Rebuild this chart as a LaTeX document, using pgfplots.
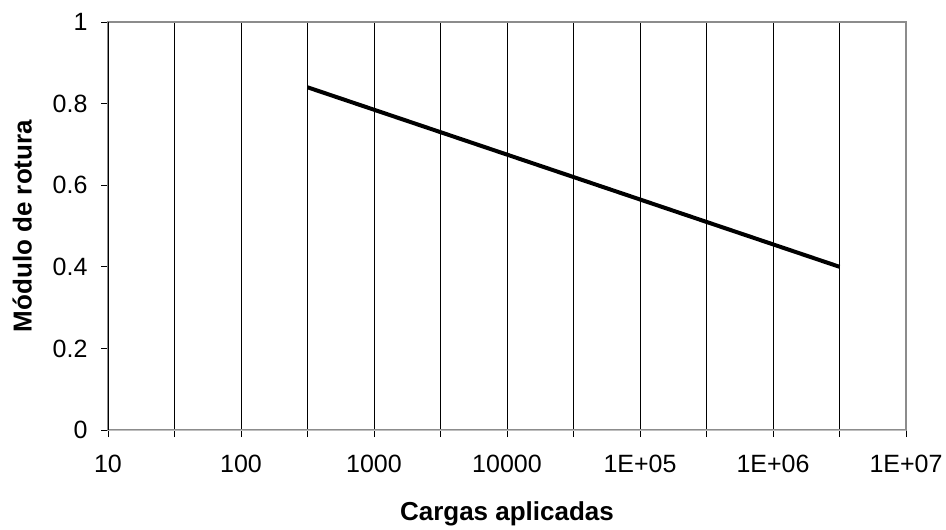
\documentclass[border=0pt]{standalone}
\usepackage{pgfplots}
\pgfplotsset{compat=1.18}
\usepackage{fontspec}
\setmainfont{Liberation Sans}
\definecolor{framegray}{RGB}{140,140,140}
\definecolor{botgray}{RGB}{190,190,190}
\begin{document}
\begin{tikzpicture}
\begin{axis}[
  scale only axis,
  width=798bp, height=408bp,
  xmode=log, log basis x=10,
  xmin=10, xmax=1e7, ymin=0, ymax=1,
  xtick={10,31.6227766,100,316.227766,1000,3162.27766,1e4,31622.7766,1e5,316227.766,1e6,3162277.66,1e7},
  xticklabels={10,,100,,1000,,10000,,1E+05,,1E+06,,1E+07},
  ytick={0,0.2,0.4,0.6,0.8,1},
  yticklabels={0,0.2,0.4,0.6,0.8,1},
  xmajorgrids,
  major grid style={black, line width=0.8bp},
  axis line style={framegray, line width=1.6bp},
  tick align=outside,
  tick pos=left,
  major tick length=7bp,
  tick style={black, line width=0.8bp},
  tick label style={font=\fontsize{25bp}{29bp}\selectfont},
  xticklabel style={yshift=-15bp},
  yticklabel style={xshift=-10bp},
  xlabel={\textbf{Cargas aplicadas}},
  ylabel={\textbf{Módulo de rotura}},
  label style={font=\fontsize{26bp}{30bp}\selectfont},
  xlabel style={yshift=-22bp},
  ylabel style={yshift=14bp},
]
\addplot[black, line width=4bp] coordinates {(316.227766,0.84) (3162277.66,0.40)};
\draw[black, line width=1.2bp] (rel axis cs:0,0) -- (rel axis cs:0,1);
\draw[botgray, line width=1bp] (rel axis cs:0,0) -- (rel axis cs:1,0);
\end{axis}
\path ([shift={(-108bp,-93bp)}]current axis.south west) rectangle ([shift={(40bp,22bp)}]current axis.north east);
\end{tikzpicture}
\end{document}
